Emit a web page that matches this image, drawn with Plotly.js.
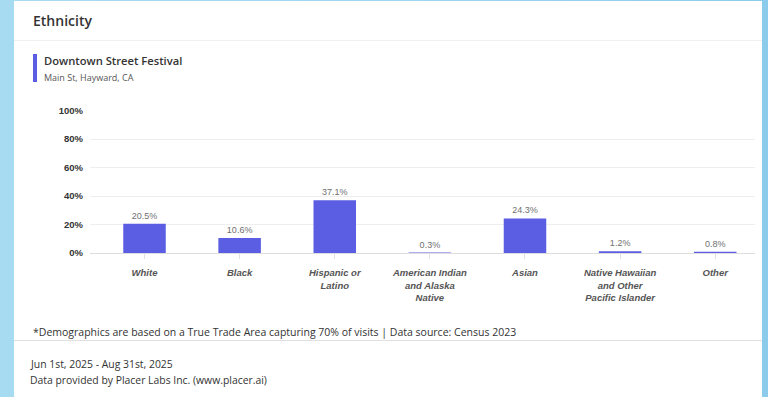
<!DOCTYPE html>
<html>
<head>
<meta charset="utf-8">
<script src="https://cdn.plot.ly/plotly-3.0.1.min.js"></script>
<style>
  html, body { margin: 0; padding: 0; }
  body { width: 768px; height: 397px; overflow: hidden;
         background: linear-gradient(90deg, #a7dbf2 0%, #9fd6f0 50%, #8ccbeb 100%); }
  #chart { width: 768px; height: 397px; }
</style>
</head>
<body>
<div id="chart"></div>
<script>
// ---- data ----
const categories = [
  "White", "Black", "Hispanic or<br>Latino", "American Indian<br>and Alaska<br>Native",
  "Asian", "Native Hawaiian<br>and Other<br>Pacific Islander", "Other"
];
const values = [20.5, 10.6, 37.1, 0.3, 24.3, 1.2, 0.8];
const yTicks = [0, 20, 40, 60, 80, 100];
const yTickLabels = ["0%", "20%", "40%", "60%", "80%", "100%"];
const cardTitle = "Ethnicity";
const seriesName = "Downtown Street Festival";
const seriesSub = "Main St, Hayward, CA";
const footnote = "*Demographics are based on a True Trade Area capturing 70% of visits | Data source: Census 2023";
const dateRange = "Jun 1st, 2025 - Aug 31st, 2025";
const provider = "Data provided by Placer Labs Inc. (www.placer.ai)";

// ---- layout helpers (page px -> paper coords) ----
const L = 90, R = 755, T = 110, B = 253;
const px = p => (p - L) / (R - L);
const py = p => (B - p) / (B - T);

const barColor = "#5b5ee3";
const openSans = "Open Sans, Noto Sans, sans-serif";
const arial = "Liberation Sans, Arial, sans-serif";

const trace = {
  type: "bar",
  x: categories.map((c, i) => i),
  y: values,
  marker: { color: barColor },
  width: 0.447,
  text: values.map(v => v.toFixed(1) + "%"),
  textposition: "outside",
  textfont: { family: arial, size: 9, color: "#707070" },
  cliponaxis: false,
  hoverinfo: "skip"
};

const layout = {
  width: 768, height: 397,
  margin: { l: L, r: 768 - R, t: T, b: 397 - B, pad: 0 },
  paper_bgcolor: "rgba(0,0,0,0)",
  plot_bgcolor: "rgba(0,0,0,0)",
  showlegend: false,
  xaxis: {
    range: [-0.573, 6.418],
    tickmode: "array",
    tickvals: categories.map((c, i) => i),
    ticktext: categories,
    tickangle: 0,
    ticks: "outside", ticklen: 5, tickcolor: "#e2e2e2", tickwidth: 1,
    ticklabelstandoff: 6,
    tickfont: { family: arial, size: 9.5, color: "#555555", weight: "bold", style: "italic" },
    showgrid: false, showline: false, zeroline: false, fixedrange: true
  },
  yaxis: {
    range: [0, 100.5],
    tickmode: "array",
    tickvals: yTicks,
    ticktext: yTickLabels,
    tickfont: { family: arial, size: 9.5, color: "#333333", weight: "bold" },
    showgrid: true, gridcolor: "#eeeeee", gridwidth: 1,
    zeroline: true, zerolinecolor: "#dddddd", zerolinewidth: 1,
    showline: false, ticks: "", ticklabelstandoff: 6, fixedrange: true
  },
  shapes: [
    // white card
    { type: "rect", xref: "paper", yref: "paper", layer: "below",
      x0: px(14), x1: px(762), y0: py(398), y1: py(1),
      fillcolor: "#ffffff", line: { width: 0 } },
    // header separator
    { type: "line", xref: "paper", yref: "paper", layer: "below",
      x0: px(14), x1: px(762), y0: py(40.5), y1: py(40.5),
      line: { color: "#f0f0f0", width: 1 } },
    // footer separator
    { type: "line", xref: "paper", yref: "paper", layer: "below",
      x0: px(14), x1: px(762), y0: py(340.5), y1: py(340.5),
      line: { color: "#e0e0e0", width: 1 } },
    // legend colour bar
    { type: "rect", xref: "paper", yref: "paper",
      x0: px(33), x1: px(37), y0: py(82), y1: py(54),
      fillcolor: barColor, line: { width: 0 } }
  ],
  annotations: [
    { text: cardTitle, xref: "paper", yref: "paper", x: px(31), y: py(20),
      xanchor: "left", yanchor: "middle", showarrow: false,
      font: { family: openSans, size: 14, color: "#333333", weight: 600 } },
    { text: seriesName, xref: "paper", yref: "paper", x: px(42), y: py(60),
      xanchor: "left", yanchor: "middle", showarrow: false,
      font: { family: openSans, size: 11.2, color: "#333333", weight: 600 } },
    { text: seriesSub, xref: "paper", yref: "paper", x: px(42), y: py(77),
      xanchor: "left", yanchor: "middle", showarrow: false,
      font: { family: openSans, size: 9, color: "#555555" } },
    { text: footnote, xref: "paper", yref: "paper", x: px(31), y: py(332),
      xanchor: "left", yanchor: "middle", showarrow: false,
      font: { family: openSans, size: 10.5, color: "#333333" } },
    { text: dateRange, xref: "paper", yref: "paper", x: px(27.5), y: py(364),
      xanchor: "left", yanchor: "middle", showarrow: false,
      font: { family: openSans, size: 10.4, color: "#333333" } },
    { text: provider, xref: "paper", yref: "paper", x: px(27.5), y: py(380),
      xanchor: "left", yanchor: "middle", showarrow: false,
      font: { family: openSans, size: 10.4, color: "#333333" } }
  ]
};

Plotly.newPlot("chart", [trace], layout, { displayModeBar: false, staticPlot: true });
</script>
</body>
</html>
